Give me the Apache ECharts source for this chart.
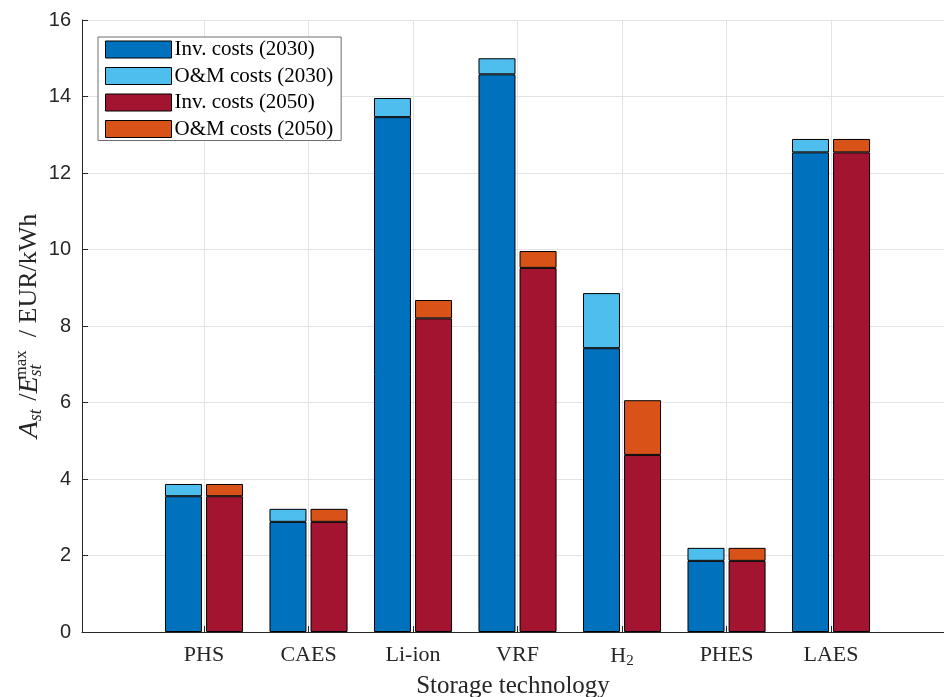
<!DOCTYPE html>
<html>
<head>
<meta charset="utf-8">
<script src="https://cdn.jsdelivr.net/npm/echarts@6/dist/echarts.min.js"></script>
<style>html,body{margin:0;padding:0;background:#fff}#c{width:944px;height:697px}</style>
</head>
<body>
<div id="c"></div>
<script>
var categories = ['PHS', 'CAES', 'Li-ion', 'VRF', 'H2', 'PHES', 'LAES'];
var categoryPos = [1, 2, 3, 4, 5, 6, 7];
var inv2030 = [3.55, 2.88, 13.46, 14.58, 7.42, 1.86, 12.54];
var om2030  = [0.32, 0.34, 0.50, 0.42, 1.44, 0.34, 0.35];
var inv2050 = [3.55, 2.88, 8.20, 9.52, 4.63, 1.86, 12.54];
var om2050  = [0.32, 0.34, 0.48, 0.44, 1.43, 0.34, 0.35];
var yTicks = [0, 2, 4, 6, 8, 10, 12, 14, 16];
var seriesNames = ['Inv. costs (2030)', 'O&M costs (2030)', 'Inv. costs (2050)', 'O&M costs (2050)'];

var colors = ['#0072BD', '#4DBEEE', '#A2142F', '#D95319'];
var serif = 'Liberation Serif, DejaVu Serif, serif';
// value first, position second so stacking happens on the value dimension
function pts(vals){ return vals.map(function(v,i){ return [v, categoryPos[i]]; }); }
function mk(name, vals, stack, color){
  return {
    name: name, type: 'bar', stack: stack, data: pts(vals),
    encode: {x: 1, y: 0},
    barWidth: 37, barGap: '11%',
    itemStyle: {color: color, borderColor: '#000', borderWidth: 1},
    emphasis: {disabled: true}
  };
}
var chart = echarts.init(document.getElementById('c'), null, {renderer: 'canvas'});
chart.setOption({
  animation: false,
  grid: {left: 82, top: 20, right: 0, bottom: 65, containLabel: false, outerBoundsMode: 'none'},
  legend: {
    left: 98, top: 37, orient: 'vertical',
    data: seriesNames,
    icon: 'rect',
    itemWidth: 66, itemHeight: 17, itemGap: 5.5,
    padding: [2, 8, 1, 7],
    borderColor: '#6e6e6e', borderWidth: 1, backgroundColor: '#fff',
    textStyle: {fontFamily: serif, fontSize: 21, color: '#000', padding: [0,0,0,-2]},
    itemStyle: {borderColor: '#000', borderWidth: 1},
    selectedMode: false
  },
  xAxis: {
    type: 'value', min: -0.1675, max: 8.081,
    name: 'Storage technology', nameLocation: 'middle', nameGap: 39,
    nameTextStyle: {fontFamily: serif, fontSize: 25, color: '#262626'},
    axisLine: {show: true, onZero: false, lineStyle: {color: '#262626', width: 1}},
    axisTick: {show: true, inside: true, length: 6, customValues: categoryPos, lineStyle: {color: '#262626'}},
    axisLabel: {
      customValues: categoryPos, margin: 12,
      fontFamily: serif, fontSize: 22, color: '#262626',
      formatter: function(v){
        var i = categoryPos.indexOf(Math.round(v));
        if (i < 0) return '';
        var c = categories[i];
        if (c === 'H2') return 'H{sub|2}';
        return c;
      },
      rich: {sub: {fontFamily: serif, fontSize: 15, verticalAlign: 'bottom', padding: [10,0,0,0], color: '#262626'}}
    },
    splitLine: {show: true, lineStyle: {color: '#e3e3e3', width: 1}}
  },
  yAxis: {
    type: 'value', min: 0, max: 16, interval: 2,
    name: '{i|A}{s|st}{n| /}{i|E}{s2|st}{sup|max}{n|  / EUR/kWh}',
    nameLocation: 'middle', nameGap: 36, nameRotate: 90, nameMoveOverlap: false,
    nameTextStyle: {
      fontFamily: serif, fontSize: 26, color: '#262626',
      rich: {
        i: {fontFamily: serif, fontStyle: 'italic', fontSize: 28, color: '#262626'},
        n: {fontFamily: serif, fontSize: 26, color: '#262626'},
        s: {fontFamily: serif, fontStyle: 'italic', fontSize: 18, color: '#262626', padding: [13,2,0,0]},
        s2: {fontFamily: serif, fontStyle: 'italic', fontSize: 18, color: '#262626', padding: [13,0,0,0]},
        sup: {fontFamily: serif, fontSize: 17, color: '#262626', padding: [0,0,16,-15]}
      }
    },
    axisLine: {show: true, onZero: false, lineStyle: {color: '#262626', width: 1}},
    axisTick: {show: true, inside: true, length: 6, lineStyle: {color: '#262626'}},
    axisLabel: {
      fontFamily: 'Liberation Sans, Arial, sans-serif', fontSize: 20, color: '#262626', margin: 11,
      formatter: function(v){ return yTicks.indexOf(v) >= 0 ? String(v) : ''; }
    },
    splitLine: {show: true, lineStyle: {color: '#e3e3e3', width: 1}}
  },
  series: [
    mk(seriesNames[0], inv2030, 's2030', colors[0]),
    mk(seriesNames[1], om2030, 's2030', colors[1]),
    mk(seriesNames[2], inv2050, 's2050', colors[2]),
    mk(seriesNames[3], om2050, 's2050', colors[3])
  ]
});
</script>
</body>
</html>
